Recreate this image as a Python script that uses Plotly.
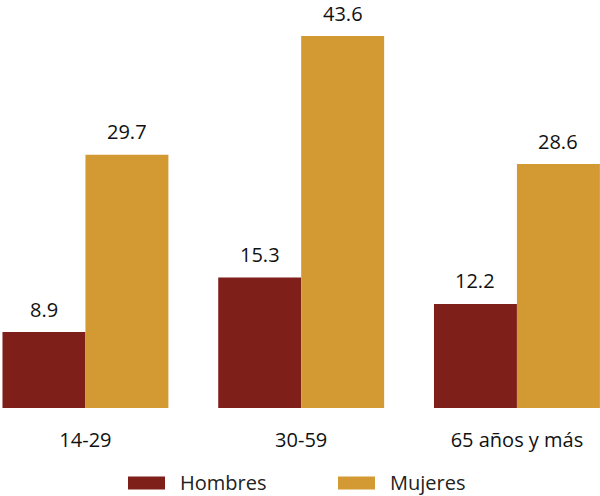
import plotly.graph_objects as go

categories = ["14-29", "30-59", "65 años y más"]
hombres = [8.9, 15.3, 12.2]
mujeres = [29.7, 43.6, 28.6]
series_names = ["Hombres", "Mujeres"]
colors = ["#7F1F1A", "#D39932"]

FONT = "Open Sans"
TXT = "#111111"
W, H = 600, 496
MB = 88
PLOT_H = H - MB

fig = go.Figure()
series = [hombres, mujeres]
for name, vals, col in zip(series_names, series, colors):
    fig.add_trace(go.Bar(
        x=categories, y=vals, name=name,
        marker=dict(color=col, line=dict(width=0)),
        showlegend=False,
    ))

# value labels above bars
annotations = []
for i, vals in enumerate(series):
    shift = -41.5 if i == 0 else 41.5
    for c, v in zip(categories, vals):
        annotations.append(dict(
            x=c, y=v, xref="x", yref="y", text=f"{v:.1f}", showarrow=False,
            xshift=shift, yanchor="middle", yshift=23, borderpad=0,
            font=dict(family=FONT, size=20, color=TXT),
        ))

# legend (swatches + labels) placed below the plot
def py(p):
    return (PLOT_H - p) / PLOT_H

legend_items = [(128, 178), (338, 388)]
shapes = []
for (sx, tx), name, col in zip(legend_items, series_names, colors):
    shapes.append(dict(type="rect", xref="paper", yref="paper",
                       x0=sx / W, x1=(sx + 37) / W, y0=py(489.5), y1=py(476.5),
                       fillcolor=col, line=dict(width=0)))
    annotations.append(dict(x=tx / W, y=py(482), xref="paper", yref="paper",
                            text=name, showarrow=False, xanchor="left", yanchor="middle",
                            font=dict(family=FONT, size=20, color="#222222")))

fig.update_layout(
    width=W, height=H,
    margin=dict(l=0, r=0, t=0, b=MB),
    plot_bgcolor="white", paper_bgcolor="white",
    barmode="group", bargap=0.231, bargroupgap=0,
    xaxis=dict(range=[-0.396, 2.385], showgrid=False, showline=False, zeroline=False,
               ticks="", ticklabelstandoff=18,
               tickfont=dict(family=FONT, size=20, color=TXT)),
    yaxis=dict(range=[0, 47.83], visible=False),
    annotations=annotations,
    shapes=shapes,
    showlegend=False,
)
fig.write_html("out.html")
